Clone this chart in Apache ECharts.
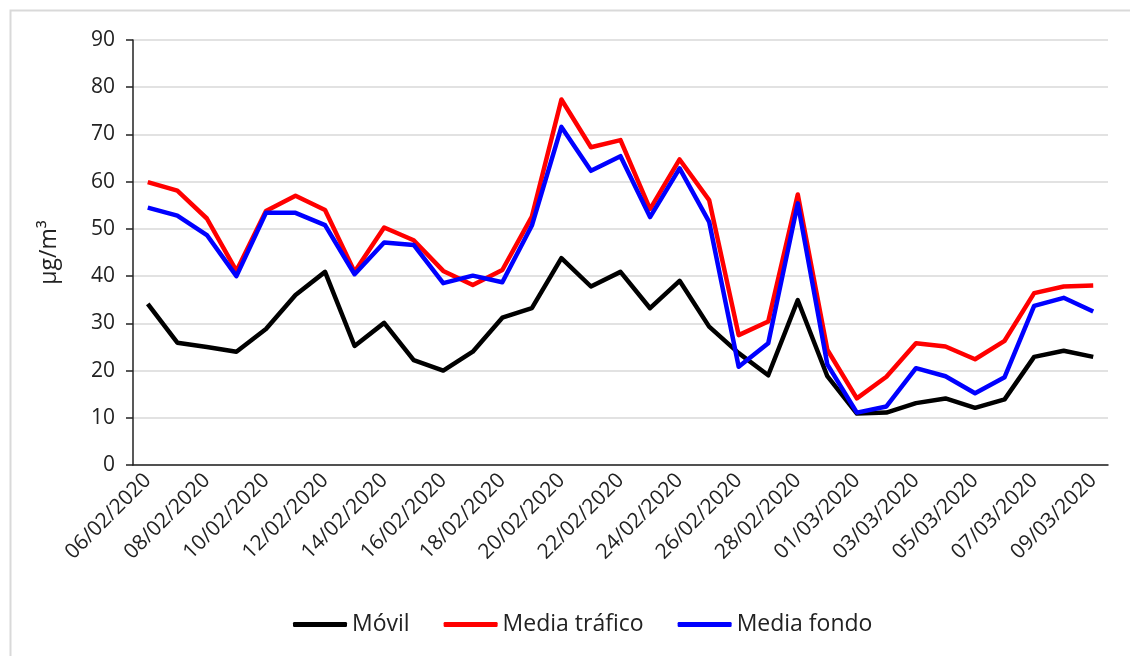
<!DOCTYPE html>
<html>
<head>
<meta charset="utf-8">
<script src="https://cdn.jsdelivr.net/npm/echarts@6/dist/echarts.min.js"></script>
<style>
    html, body { margin: 0; padding: 0; background: #fff; }
    #main { width: 1130px; height: 656px; }
</style>
</head>
<body>
<div id="main"></div>
<script>
// daily dates, 06/02/2020 .. 09/03/2020
var dates = [
    '06/02/2020', '07/02/2020', '08/02/2020', '09/02/2020', '10/02/2020', '11/02/2020',
    '12/02/2020', '13/02/2020', '14/02/2020', '15/02/2020', '16/02/2020', '17/02/2020',
    '18/02/2020', '19/02/2020', '20/02/2020', '21/02/2020', '22/02/2020', '23/02/2020',
    '24/02/2020', '25/02/2020', '26/02/2020', '27/02/2020', '28/02/2020', '29/02/2020',
    '01/03/2020', '02/03/2020', '03/03/2020', '04/03/2020', '05/03/2020', '06/03/2020',
    '07/03/2020', '08/03/2020', '09/03/2020'
];

var movil = [
    34.1, 25.9, 25.0, 24.0, 28.8, 36.0, 40.9, 25.2, 30.1, 22.2, 20.0, 24.0,
    31.2, 33.2, 43.8, 37.8, 40.9, 33.2, 39.0, 29.3, 23.7, 19.0, 34.9, 18.8,
    10.9, 11.1, 13.1, 14.1, 12.1, 13.9, 22.9, 24.2, 22.9
];

var mediaTrafico = [
    59.9, 58.1, 52.2, 41.1, 53.8, 57.0, 54.0, 40.9, 50.3, 47.6, 41.1, 38.1,
    41.3, 52.6, 77.4, 67.3, 68.8, 54.2, 64.7, 56.1, 27.5, 30.4, 57.3, 24.4,
    14.1, 18.7, 25.8, 25.1, 22.4, 26.3, 36.4, 37.8, 38.0
];

var mediaFondo = [
    54.5, 52.8, 48.7, 40.0, 53.4, 53.4, 50.8, 40.4, 47.1, 46.6, 38.5, 40.1,
    38.7, 50.7, 71.6, 62.3, 65.4, 52.5, 62.8, 51.5, 20.8, 25.8, 55.4, 21.3,
    11.1, 12.4, 20.5, 18.8, 15.2, 18.6, 33.7, 35.4, 32.5
];

var seriesNames = ['Móvil', 'Media tráfico', 'Media fondo'];
var seriesColors = ['#000000', '#ff0000', '#0000ff'];

var font = '"Open Sans", "Noto Sans", sans-serif';
var chart = echarts.init(document.getElementById('main'));

function lineSeries(i, data) {
    return {
        name: seriesNames[i],
        type: 'line',
        data: data,
        symbol: 'none',
        color: seriesColors[i],
        lineStyle: { width: 4.5, color: seriesColors[i], join: 'round' },
        animation: false
    };
}

var option = {
    backgroundColor: '#fff',
    textStyle: { fontFamily: font },
    graphic: [{
        type: 'rect',
        shape: { x: 10.5, y: 10.5, width: 1130, height: 660 },
        style: { fill: 'none', stroke: '#d9d9d9', lineWidth: 2 },
        silent: true
    }],
    grid: { left: 133, right: 22, top: 40, bottom: 191 },
    legend: {
        bottom: 15,
        left: 288,
        itemWidth: 54,
        itemHeight: 5,
        itemGap: 34,
        icon: 'roundRect',
        textStyle: { fontSize: 23, color: '#222', fontFamily: font },
        data: seriesNames
    },
    xAxis: {
        type: 'category',
        data: dates,
        boundaryGap: true,
        axisLine: { lineStyle: { color: '#222', width: 1.5 } },
        axisTick: { interval: 1, length: 7, lineStyle: { color: '#222', width: 1.5 } },
        axisLabel: {
            interval: 1,
            rotate: 45,
            margin: 12,
            fontSize: 21,
            color: '#222',
            fontFamily: font
        },
        splitLine: { show: false }
    },
    yAxis: {
        type: 'value',
        min: 0,
        max: 90,
        interval: 10,
        name: 'µg/m³',
        nameLocation: 'middle',
        nameRotate: 90,
        nameGap: 72,
        nameTextStyle: { fontSize: 23, color: '#222', fontFamily: font },
        axisLine: { show: true, lineStyle: { color: '#222', width: 1.5 } },
        axisTick: { show: true, length: 7, lineStyle: { color: '#222', width: 1.5 } },
        axisLabel: { margin: 18, fontSize: 21, color: '#222', fontFamily: font },
        splitLine: { lineStyle: { color: '#d9d9d9', width: 1.5 } }
    },
    series: [
        lineSeries(0, movil),
        lineSeries(1, mediaTrafico),
        lineSeries(2, mediaFondo)
    ]
};

chart.setOption(option);
</script>
</body>
</html>
